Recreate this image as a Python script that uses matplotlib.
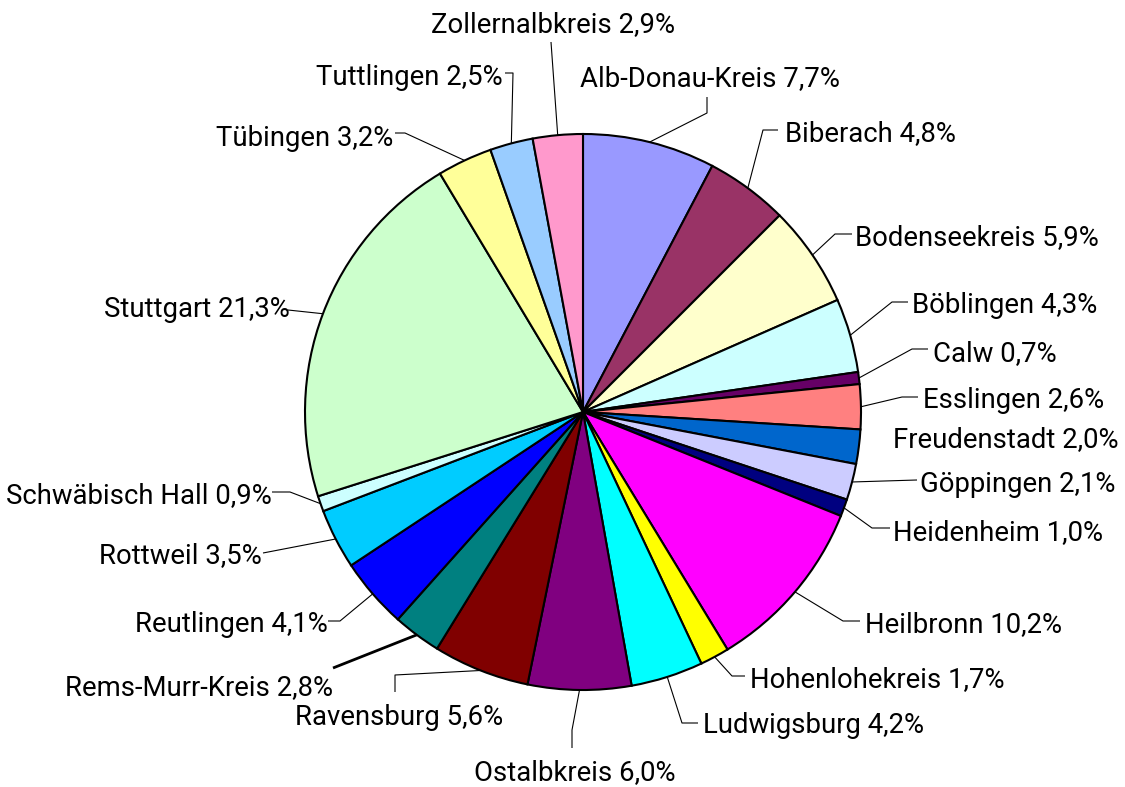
import matplotlib
matplotlib.use("Agg")
import matplotlib.pyplot as plt
import numpy as np

# ---- data ----
districts = ["Alb-Donau-Kreis", "Biberach", "Bodenseekreis", "Böblingen", "Calw",
             "Esslingen", "Freudenstadt", "Göppingen", "Heidenheim", "Heilbronn",
             "Hohenlohekreis", "Ludwigsburg", "Ostalbkreis", "Ravensburg",
             "Rems-Murr-Kreis", "Reutlingen", "Rottweil", "Schwäbisch Hall",
             "Stuttgart", "Tübingen", "Tuttlingen", "Zollernalbkreis"]
shares = [7.7, 4.8, 5.9, 4.3, 0.7, 2.6, 2.0, 2.1, 1.0, 10.2, 1.7, 4.2, 6.0, 5.6,
          2.8, 4.1, 3.5, 0.9, 21.3, 3.2, 2.5, 2.9]
colors = ["#9999FF", "#993366", "#FFFFCC", "#CCFFFF", "#660066", "#FF8080",
          "#0066CC", "#CCCCFF", "#000080", "#FF00FF", "#FFFF00", "#00FFFF",
          "#800080", "#800000", "#008080", "#0000FF", "#00CCFF", "#CCFFFF",
          "#CCFFCC", "#FFFF99", "#99CCFF", "#FF99CC"]

# ---- layout (pixel coordinates, y from top) ----
W, H = 1125, 787
CX, CY, R = 583, 412, 278
# label text anchor (x, baseline y, ha) and leader elbow points
label_pos = [
    ((580, 86, "left"), [(707, 113), (707, 97)]),
    ((785, 141, "left"), [(763, 130), (778, 130)]),
    ((855, 245, "left"), [(835, 234), (852, 234)]),
    ((912, 313, "left"), [(892, 302), (908, 302)]),
    ((933, 361, "left"), [(912, 349), (928, 349)]),
    ((923, 408, "left"), [(902, 397), (918, 397)]),
    ((893, 447, "left"), None),
    ((920, 492, "left"), [(917, 480)]),
    ((893, 540, "left"), [(872, 528), (890, 528)]),
    ((865, 632, "left"), [(843, 621), (860, 621)]),
    ((750, 687, "left"), [(732, 676), (745, 676)]),
    ((703, 733, "left"), [(682, 723), (698, 723)]),
    ((575, 780, "center"), [(572, 730), (572, 748)]),
    ((295, 725, "left"), [(395, 675), (395, 692)]),
    ((333, 695, "right"), [(333, 668)]),
    ((328, 632, "right"), [(340, 621), (328, 621)]),
    ((262, 563, "right"), [(263, 553)]),
    ((272, 503, "right"), [(290, 492), (272, 492)]),
    ((290, 317, "right"), [(288, 310)]),
    ((393, 146, "right"), [(405, 133), (395, 133)]),
    ((503, 85, "right"), [(513, 73), (505, 73)]),
    ((553, 32, "center"), [(551, 42)]),
]

plt.rcParams['font.family'] = ['Roboto', 'DejaVu Sans']

fig = plt.figure(figsize=(W / 100, H / 100), dpi=100)
ax = fig.add_axes([0, 0, 1, 1])
ax.pie(shares, colors=colors, startangle=90, counterclock=False,
       center=(CX, H - CY), radius=R,
       wedgeprops=dict(edgecolor="black", linewidth=1.5))
ax.set_xlim(0, W)
ax.set_ylim(0, H)
ax.set_aspect("equal")
ax.axis("off")

total = sum(shares)
cum = np.cumsum([0] + shares)
for i, (name, val) in enumerate(zip(districts, shares)):
    (tx, ty, ha), pts = label_pos[i]
    mid = (cum[i] + val / 2) / total * 2 * np.pi
    ex = CX + R * np.sin(mid)
    ey = CY - R * np.cos(mid)
    if pts is not None:
        xs = [ex] + [p[0] for p in pts]
        ys = [H - ey] + [H - p[1] for p in pts]
        lw = 2.0 if name == "Rems-Murr-Kreis" else 0.8
        ax.plot(xs, ys, color="black", lw=lw, solid_capstyle="butt")
    txt = f"{name} {val:.1f}%".replace(".", ",")
    ax.text(tx, H - ty, txt, ha=ha, va="baseline", fontsize=19.8, color="black")

fig.savefig("out.png", dpi=100)
